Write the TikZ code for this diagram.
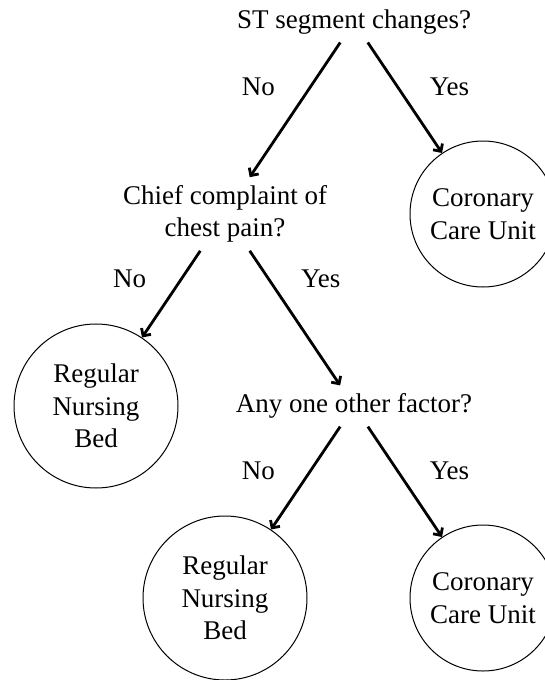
\documentclass[tikz,border=0pt]{standalone}
\usepackage{fontspec}
\setmainfont{Liberation Serif}
\usetikzlibrary{arrows.meta}
\begin{document}
\begin{tikzpicture}
[
    x=1pt, y=1pt,
    font=\fontsize{27}{32.5}\selectfont,
    level distance=192pt,
    sibling distance=258pt,
    question/.style={shape=rectangle, align=center, inner sep=8pt},
    outcome/.style={shape=circle, draw, line width=1pt, align=center, inner sep=0pt},
    ccu/.style={outcome, minimum size=146pt},
    ward/.style={outcome, minimum size=164pt},
    answer/.style={shape=rectangle, inner sep=0pt},
    edge from parent/.style={draw, line width=2.8pt, -{Straight Barb[angle=90:8pt]}},
]
\useasboundingbox (0,0) rectangle (545,-680);
\node[question] (st) at (354,-22) {ST segment changes?}
    child {node[question] (chief) {Chief complaint of\\chest pain?}
        child {node[ward] (ward1) {Regular\\Nursing\\Bed}
            edge from parent node[answer, pos=.32, xshift=-52pt] {No}
        }
        child {node[question] (factor) {Any one other factor?}
            child {node[ward] (ward2) {Regular\\Nursing\\Bed}
                edge from parent node[answer, pos=.43, xshift=-52pt] {No}
            }
            child {node[ccu] (ccu2) {Coronary\\Care Unit}
                edge from parent node[answer, pos=.40, xshift=52pt] {Yes}
            }
            edge from parent node[answer, pos=.21, xshift=52pt] {Yes}
        }
        edge from parent node[answer, pos=.33, xshift=-52pt] {No}
    }
    child {node[ccu] (ccu1) {Coronary\\Care Unit}
        edge from parent node[answer, pos=.40, xshift=52pt] {Yes}
    };
\end{tikzpicture}
\end{document}
